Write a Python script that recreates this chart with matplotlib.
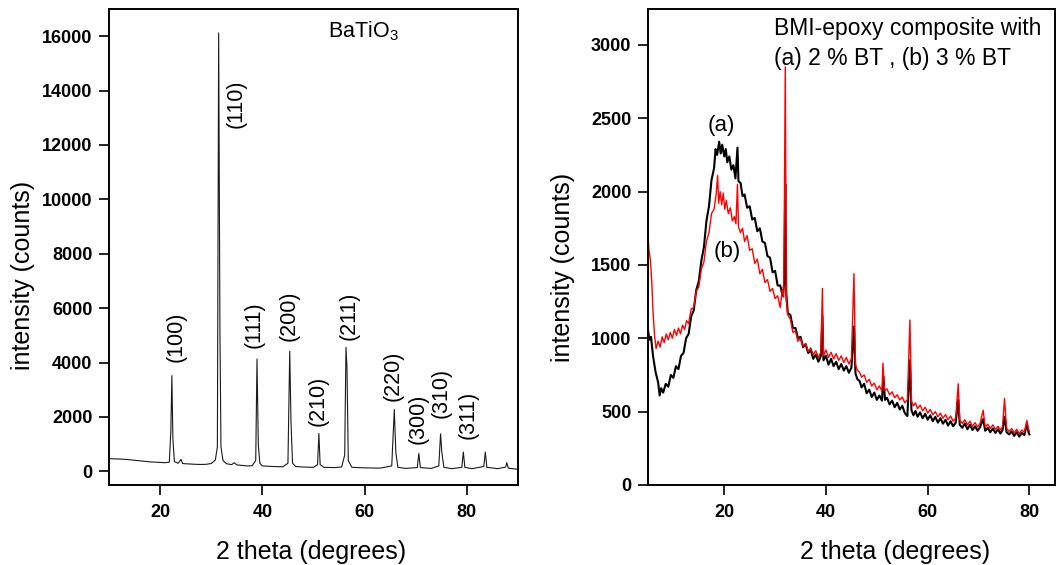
import matplotlib
matplotlib.use("Agg")
import matplotlib.pyplot as plt

plt.rcParams['font.family'] = ['Liberation Sans', 'DejaVu Sans']

# BaTiO3 powder pattern (2theta, counts)
bt_pts = [(10.0, 470), (11.0, 460), (12.0, 455), (13.0, 445), (14.0, 430), (15.0, 410),
          (16.0, 390), (17.0, 370), (18.0, 350), (19.0, 340), (20.0, 330), (21.0, 320),
          (21.8, 340), (22.1, 1500), (22.3, 3520), (22.5, 1200), (22.8, 360), (23.5, 300),
          (24.1, 440), (24.4, 290), (25.0, 280), (26.0, 270), (27.0, 260), (28.0, 255),
          (29.0, 260), (30.0, 290), (30.8, 420), (31.2, 900), (31.45, 16120), (31.7, 5200),
          (31.9, 900), (32.3, 400), (33.0, 280), (34.0, 250), (34.5, 320), (35.0, 240),
          (36.0, 220), (37.0, 200), (38.0, 210), (38.7, 400), (38.95, 4130), (39.2, 1000),
          (39.5, 300), (40.0, 200), (42.0, 180), (44.0, 170), (45.0, 300), (45.35, 4415),
          (45.6, 1800), (45.9, 300), (46.5, 180), (48.0, 160), (50.0, 150), (50.8, 250),
          (51.05, 1395), (51.3, 250), (52.0, 150), (54.0, 140), (55.5, 160), (56.1, 600),
          (56.35, 4560), (56.55, 3800), (56.8, 400), (57.5, 150), (60.0, 130), (63.0, 120),
          (65.3, 200), (65.8, 2275), (66.1, 700), (66.5, 150), (68.0, 110), (70.3, 140),
          (70.6, 660), (70.9, 140), (73.0, 110), (74.5, 200), (74.85, 1380), (75.1, 700),
          (75.5, 150), (77.0, 100), (79.0, 150), (79.3, 710), (79.6, 150), (81.0, 100),
          (83.3, 180), (83.6, 710), (83.9, 150), (86.0, 100), (87.6, 160), (87.8, 320),
          (88.1, 120), (90.0, 75)]

hkl_labels = ['(100)', '(110)', '(111)', '(200)', '(210)', '(211)', '(220)', '(300)', '(310)', '(311)']
hkl_x = [23.1, 34.9, 38.4, 45.3, 51.0, 56.9, 65.5, 70.5, 74.9, 80.3]
hkl_y = [4030, 12620, 4550, 4780, 1660, 4845, 2580, 990, 1970, 1175]

# BMI-epoxy composite, (a) 2 % BT
a_pts = [(5.0, 1060), (5.3, 990), (5.6, 1010), (6.0, 880), (6.5, 770), (7.0, 700), (7.3, 610),
         (7.6, 660), (8.0, 630), (8.5, 690), (9.0, 670), (9.5, 750), (10.0, 730), (10.5, 810),
         (11.0, 790), (11.5, 880), (12.0, 900), (12.5, 1000), (13.0, 1030), (13.5, 1150),
         (14.0, 1190), (14.5, 1330), (15.0, 1390), (15.5, 1530), (16.0, 1620), (16.5, 1800),
         (17.0, 1900), (17.5, 2080), (18.0, 2160), (18.3, 2290), (18.6, 2250), (19.0, 2340),
         (19.3, 2260), (19.6, 2320), (20.0, 2240), (20.3, 2290), (20.6, 2200), (21.0, 2240),
         (21.4, 2150), (21.8, 2180), (22.2, 2090), (22.6, 2300), (22.8, 2070), (23.2, 2060),
         (23.6, 1970), (24.0, 1980), (24.5, 1890), (25.0, 1900), (25.5, 1810), (26.0, 1820),
         (26.5, 1730), (27.0, 1750), (27.5, 1660), (28.0, 1650), (28.5, 1560), (29.0, 1550),
         (29.5, 1450), (30.0, 1460), (30.5, 1360), (31.0, 1360), (31.5, 1290), (31.8, 1380),
         (32.0, 2050), (32.2, 1300), (32.5, 1170), (33.0, 1160), (33.5, 1070), (34.0, 1070),
         (34.5, 1000), (35.0, 1010), (35.5, 940), (36.0, 960), (36.5, 900), (37.0, 920),
         (37.5, 860), (38.0, 890), (38.5, 840), (39.0, 880), (39.3, 1150), (39.5, 850),
         (40.0, 880), (40.5, 820), (41.0, 860), (41.5, 810), (42.0, 840), (42.5, 790),
         (43.0, 825), (43.5, 780), (44.0, 810), (44.5, 765), (45.0, 800), (45.5, 1080),
         (45.8, 760), (46.2, 720), (46.6, 710), (47.0, 665), (47.5, 690), (48.0, 625),
         (48.5, 650), (49.0, 600), (49.5, 630), (50.0, 580), (50.5, 610), (51.0, 575),
         (51.3, 740), (51.6, 580), (52.0, 595), (52.5, 550), (53.0, 575), (53.5, 530),
         (54.0, 560), (54.5, 515), (55.0, 540), (55.5, 490), (56.0, 470), (56.5, 850),
         (56.8, 510), (57.2, 475), (57.6, 505), (58.0, 465), (58.5, 495), (59.0, 455),
         (59.5, 485), (60.0, 445), (60.5, 475), (61.0, 435), (61.5, 465), (62.0, 425),
         (62.5, 455), (63.0, 418), (63.5, 445), (64.0, 405), (64.5, 435), (65.0, 400),
         (65.5, 425), (66.0, 580), (66.3, 410), (66.8, 390), (67.3, 420), (67.8, 380),
         (68.3, 410), (68.8, 375), (69.3, 400), (69.8, 370), (70.3, 395), (70.9, 450),
         (71.3, 370), (71.8, 390), (72.3, 360), (72.8, 385), (73.3, 355), (73.8, 380),
         (74.3, 350), (74.7, 375), (75.1, 465), (75.5, 360), (76.0, 345), (76.5, 365),
         (77.0, 335), (77.5, 360), (78.0, 330), (78.5, 355), (79.0, 340), (79.5, 420),
         (79.8, 360), (80.0, 345)]

# (b) 3 % BT
b_pts = [(5.0, 1720), (5.2, 1600), (5.5, 1530), (5.8, 1350), (6.0, 1180), (6.3, 1020),
         (6.6, 930), (7.0, 980), (7.4, 940), (7.8, 1010), (8.2, 970), (8.6, 1030), (9.0, 990),
         (9.4, 1040), (9.8, 1000), (10.2, 1060), (10.6, 1020), (11.0, 1070), (11.4, 1030),
         (11.8, 1090), (12.2, 1060), (12.6, 1120), (13.0, 1100), (13.5, 1200), (14.0, 1210),
         (14.5, 1320), (15.0, 1350), (15.5, 1470), (16.0, 1520), (16.5, 1660), (17.0, 1720),
         (17.5, 1850), (18.0, 1880), (18.4, 1980), (18.7, 2110), (18.9, 1920), (19.2, 2000),
         (19.5, 1910), (19.8, 1990), (20.1, 1880), (20.4, 1940), (20.8, 1850), (21.2, 1890),
         (21.6, 1800), (22.0, 1830), (22.3, 1780), (22.6, 2050), (22.8, 1760), (23.2, 1720),
         (23.6, 1750), (24.0, 1660), (24.5, 1700), (25.0, 1600), (25.5, 1610), (26.0, 1510),
         (26.5, 1540), (27.0, 1440), (27.5, 1470), (28.0, 1380), (28.5, 1400), (29.0, 1320),
         (29.5, 1340), (30.0, 1270), (30.5, 1290), (31.0, 1210), (31.4, 1330), (31.7, 1280),
         (32.0, 2850), (32.2, 1260), (32.5, 1160), (33.0, 1130), (33.5, 1040), (34.0, 1050),
         (34.5, 980), (35.0, 1000), (35.5, 945), (36.0, 965), (36.5, 910), (37.0, 935),
         (37.5, 890), (38.0, 915), (38.5, 870), (39.0, 905), (39.3, 1340), (39.5, 880),
         (40.0, 920), (40.5, 870), (41.0, 905), (41.5, 860), (42.0, 895), (42.5, 850),
         (43.0, 880), (43.5, 835), (44.0, 870), (44.5, 825), (45.0, 860), (45.5, 1440),
         (45.8, 820), (46.2, 780), (46.6, 770), (47.0, 735), (47.5, 750), (48.0, 700),
         (48.5, 720), (49.0, 675), (49.5, 695), (50.0, 650), (50.5, 675), (51.0, 640),
         (51.2, 830), (51.5, 645), (52.0, 655), (52.5, 615), (53.0, 635), (53.5, 595),
         (54.0, 615), (54.5, 580), (55.0, 600), (55.5, 560), (56.0, 580), (56.5, 1125),
         (56.8, 570), (57.2, 540), (57.6, 560), (58.0, 520), (58.5, 545), (59.0, 505),
         (59.5, 530), (60.0, 490), (60.5, 515), (61.0, 480), (61.5, 500), (62.0, 465),
         (62.5, 490), (63.0, 455), (63.5, 480), (64.0, 445), (64.5, 470), (65.0, 435),
         (65.5, 455), (66.0, 690), (66.3, 445), (66.8, 420), (67.3, 445), (67.8, 410),
         (68.3, 435), (68.8, 400), (69.3, 425), (69.8, 395), (70.3, 420), (70.9, 510),
         (71.3, 395), (71.8, 415), (72.3, 385), (72.8, 410), (73.3, 380), (73.8, 400),
         (74.3, 375), (74.7, 395), (75.1, 590), (75.5, 385), (76.0, 365), (76.5, 385),
         (77.0, 355), (77.5, 380), (78.0, 350), (78.5, 375), (79.0, 360), (79.5, 440),
         (79.8, 380), (80.0, 365)]

bt_x, bt_y = zip(*bt_pts)
a_x, a_y = zip(*a_pts)
b_x, b_y = zip(*b_pts)

fig = plt.figure(figsize=(10.57, 5.65), dpi=100)
ax1 = fig.add_axes([0.1031, 0.1416, 0.387, 0.8425])
ax2 = fig.add_axes([0.613, 0.1416, 0.385, 0.8425])

def style(ax):
    for s in ax.spines.values():
        s.set_linewidth(1.4)
    ax.tick_params(direction='out', length=7, width=1.2, top=False, right=False)
    ax.tick_params(axis='y', pad=5)
    ax.tick_params(axis='x', pad=7)
    for t in ax.get_xticklabels() + ax.get_yticklabels():
        t.set_fontweight('bold')
        t.set_fontsize(13)
    ax.set_xlabel('2 theta (degrees)', fontsize=18)
    ax.set_ylabel('intensity (counts)', fontsize=18)

# left: BaTiO3
ax1.plot(bt_x, bt_y, color='#1a1a1a', lw=0.8)
ax1.set_xlim(10, 90)
ax1.set_ylim(-500, 17000)
ax1.set_xticks([20, 40, 60, 80])
ax1.set_yticks(range(0, 16001, 2000))
style(ax1)
ax1.xaxis.set_label_coords(0.495, -0.115)
ax1.yaxis.set_label_coords(-0.181, 0.441)
for lab, x, y in zip(hkl_labels, hkl_x, hkl_y):
    ax1.text(x, y, lab, rotation=90, ha='center', va='bottom', fontsize=15.5)
ax1.text(52.9, 15960, r'BaTiO$_\mathregular{3}$', fontsize=15.5, va='baseline')

# right: composites
ax2.plot(a_x, a_y, color='black', lw=1.5)
ax2.plot(b_x, b_y, color='red', lw=1.0)
ax2.set_xlim(5, 85)
ax2.set_ylim(0, 3245)
ax2.set_xticks([20, 40, 60, 80])
ax2.set_yticks(range(0, 3001, 500))
style(ax2)
ax2.xaxis.set_label_coords(0.607, -0.115)
ax2.yaxis.set_label_coords(-0.179, 0.458)
ax2.text(29.7, 3068, 'BMI-epoxy composite with', fontsize=16.5, va='baseline')
ax2.text(29.7, 2864, '(a) 2 % BT , (b) 3 % BT', fontsize=16.5, va='baseline')
ax2.text(19.5, 2448, '(a)', fontsize=16, ha='center', va='center')
ax2.text(20.5, 1595, '(b)', fontsize=16, ha='center', va='center')

fig.savefig('out.png', dpi=100)
